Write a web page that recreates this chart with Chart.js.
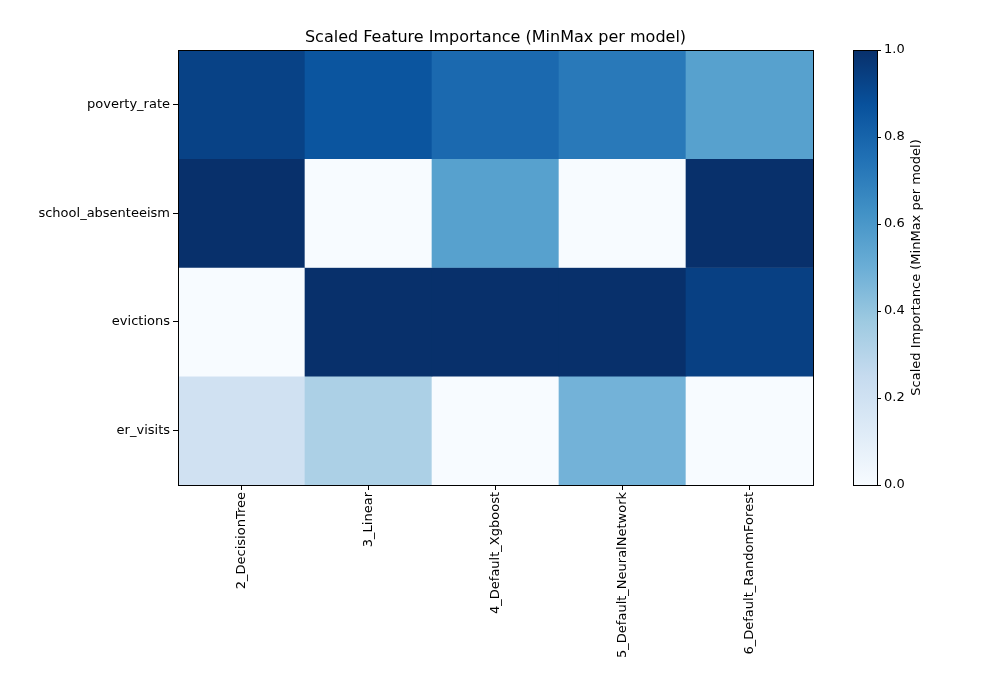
<!DOCTYPE html>
<html>
<head>
<meta charset="utf-8">
<script src="https://cdn.jsdelivr.net/npm/chart.js@4/dist/chart.umd.min.js"></script>
<style>
  body { margin: 0; background: #fff; }
  #wrap { width: 1000px; height: 700px; }
</style>
</head>
<body>
<div id="wrap"><canvas id="heat" width="1000" height="700"></canvas></div>
<script>
"use strict";

const models = ["2_DecisionTree", "3_Linear", "4_Default_Xgboost", "5_Default_NeuralNetwork", "6_Default_RandomForest"];
const features = ["poverty_rate", "school_absenteeism", "evictions", "er_visits"];
// scaled importance, one array per feature (row), one value per model
const povertyRate = [0.93, 0.86, 0.78, 0.72, 0.56];
const schoolAbsenteeism = [1.0, 0.0, 0.56, 0.0, 1.0];
const evictions = [0.0, 1.0, 1.0, 1.0, 0.94];
const erVisits = [0.2, 0.33, 0.0, 0.48, 0.0];
const rows = [povertyRate, schoolAbsenteeism, evictions, erVisits];
const cbarTicks = [0.0, 0.2, 0.4, 0.6, 0.8, 1.0];

// matplotlib "Blues"
const blues = ["#f7fbff", "#deebf7", "#c6dbef", "#9ecae1", "#6baed6", "#4292c6", "#2171b5", "#08519c", "#08306b"];

function hex(c) {
  return [1, 3, 5].map((i) => parseInt(c.slice(i, i + 2), 16));
}

function colorFor(v) {
  const t = Math.max(0, Math.min(1, v)) * (blues.length - 1);
  const i = Math.min(Math.floor(t), blues.length - 2);
  const f = t - i;
  const a = hex(blues[i]);
  const b = hex(blues[i + 1]);
  const c = a.map((x, k) => Math.round(x + (b[k] - x) * f));
  return `rgb(${c[0]},${c[1]},${c[2]})`;
}

const font = { family: "DejaVu Sans", size: 13 };

// each feature row is a dataset of floating bars spanning one y unit
const datasets = rows.map((vals, r) => {
  const lo = features.length - 1 - r;
  return {
    label: features[r],
    data: vals.map(() => [lo, lo + 1]),
    backgroundColor: vals.map(colorFor),
    borderWidth: 0,
    barPercentage: 1,
    categoryPercentage: 1,
    grouped: false,
  };
});

const extras = {
  id: "extras",
  afterDraw(chart) {
    const { ctx, chartArea: a } = chart;
    ctx.save();
    ctx.strokeStyle = "#000";
    ctx.lineWidth = 1;
    ctx.strokeRect(a.left + 0.5, a.top + 0.5, a.right - a.left, a.bottom - a.top);

    ctx.fillStyle = "#000";
    ctx.font = "16px 'DejaVu Sans'";
    ctx.textAlign = "center";
    ctx.textBaseline = "alphabetic";
    ctx.fillText("Scaled Feature Importance (MinMax per model)", (a.left + a.right) / 2, 42);

    // colorbar
    const x0 = 853, w = 24;
    const g = ctx.createLinearGradient(0, a.bottom, 0, a.top);
    blues.forEach((c, i) => g.addColorStop(i / (blues.length - 1), c));
    ctx.fillStyle = g;
    ctx.fillRect(x0, a.top, w, a.bottom - a.top);
    ctx.strokeRect(x0 + 0.5, a.top + 0.5, w, a.bottom - a.top);

    ctx.fillStyle = "#000";
    ctx.font = "13px 'DejaVu Sans'";
    ctx.textAlign = "left";
    ctx.textBaseline = "middle";
    cbarTicks.forEach((t) => {
      const y = a.bottom - t * (a.bottom - a.top);
      ctx.beginPath();
      ctx.moveTo(x0 + w, Math.round(y) + 0.5);
      ctx.lineTo(x0 + w + 4, Math.round(y) + 0.5);
      ctx.stroke();
      ctx.fillText(t.toFixed(1), x0 + w + 7, y);
    });

    ctx.translate(917, (a.top + a.bottom) / 2);
    ctx.rotate(-Math.PI / 2);
    ctx.textAlign = "center";
    ctx.fillText("Scaled Importance (MinMax per model)", 0, 0);
    ctx.restore();
  },
};

new Chart(document.getElementById("heat"), {
  type: "bar",
  data: { labels: models, datasets },
  options: {
    responsive: false,
    animation: false,
    layout: { padding: { top: 50, right: 187, left: 0, bottom: 0 } },
    plugins: { legend: { display: false }, tooltip: { enabled: false } },
    scales: {
      x: {
        offset: true,
        grid: { offset: false, drawOnChartArea: false, color: "#000", tickLength: 5 },
        border: { display: false },
        ticks: { color: "#000", font, maxRotation: 90, minRotation: 90, padding: 2 },
        afterFit(s) { s.height = 215; },
      },
      y: {
        type: "linear",
        min: 0,
        max: features.length,
        afterBuildTicks(s) {
          s.ticks = features.map((f, i) => ({ value: features.length - 1 - i + 0.5 }));
        },
        grid: { drawOnChartArea: false, color: "#000", tickLength: 5 },
        border: { display: false },
        ticks: {
          color: "#000",
          font,
          padding: 3,
          callback(v) {
            const i = features.length - 1 - Math.floor(v);
            return features[i];
          },
        },
        afterFit(s) { s.width = 178; },
      },
    },
  },
  plugins: [extras],
});
</script>
</body>
</html>
